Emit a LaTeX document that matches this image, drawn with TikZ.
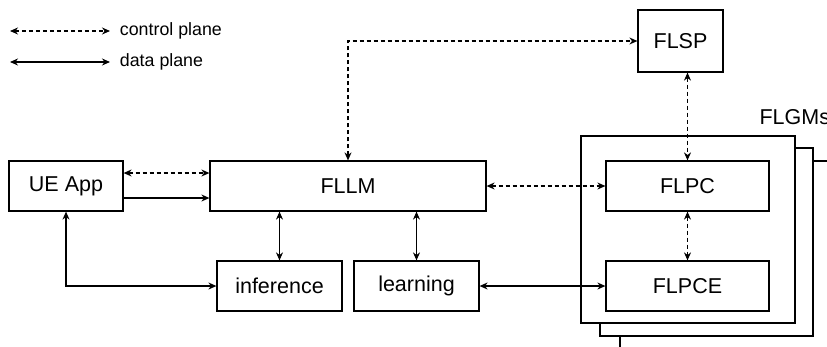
\documentclass[tikz,border=0pt]{standalone}
\usepackage{fontspec}
\setmainfont{Liberation Sans}
\usetikzlibrary{arrows.meta}

\begin{document}
\begin{tikzpicture}[
    x=1pt, y=-1pt,
    >={Stealth[length=8pt,width=7pt]},
    bloc/.style={draw, line width=1.2pt, font=\fontsize{21.5}{24}\selectfont,
      minimum width=#1, minimum height=50pt, inner sep=0pt},
    bloc/.default=125pt,
    pile/.style={draw, line width=1.2pt, fill=white},
    donnees/.style={line width=1.2pt, <->},
    controle/.style={donnees, dash pattern=on 4pt off 3pt},
    legende/.style={anchor=west, font=\fontsize{17.8}{20}\selectfont},
  ]
  \clip (0,0) rectangle (827,346);

  % legende
  \coordinate (c1) at (10,31);
  \coordinate (c2) at (110,31);
  \coordinate (d1) at (10,62);
  \coordinate (d2) at (110,62);
  \draw[controle] (c1) -- (c2) node[legende, right=6pt] (lc) {control plane};
  \draw[donnees] (d1) -- (d2) node[legende, right=6pt] (ld) {data plane};

  % les FLGMs empiles
  \draw[pile] (620,161) rectangle (860,380);
  \draw[pile] (600,148) rectangle (813,336);
  \draw[pile] (581,136) rectangle (795,323);
  \node[anchor=west, font=\fontsize{21.5}{24}\selectfont] (flgm) at (756,117) {FLGMs};

  \node[bloc=114pt] (ue) at (66,186) {UE App};
  \node[bloc=276pt] (fllm) at (348,186) {FLLM};
  \node[bloc] (inf) at (279.5,286) {inference};
  \node[bloc] (learn) at (416.5,286) {learning};
  \node[bloc=163pt] (flpc) at (687.5,186) {FLPC};
  \node[bloc=163pt] (flpce) at (687.5,286) {FLPCE};
  \node[bloc=85pt, minimum height=62pt] (flsp) at (680.5,41) {FLSP};

  \draw[controle] (fllm.north) |- (flsp.west);
  \draw[controle] (flsp.south -| flpc.north) -- (flpc.north);
  \draw[controle] ([yshift=13pt]ue.east) -- ([yshift=13pt]fllm.west);
  \draw[donnees, ->] ([yshift=-12pt]ue.east) -- ([yshift=-12pt]fllm.west);
  \draw[donnees] (ue.south) |- (inf.west);
  \draw[donnees] (fllm.south -| inf.north) -- (inf.north);
  \draw[donnees] (fllm.south -| learn.north) -- (learn.north);
  \draw[controle] (fllm.east) -- (flpc.west);
  \draw[controle] (flpc.south) -- (flpce.north);
  \draw[donnees] (learn.east) -- (flpce.west);
\end{tikzpicture}
\end{document}
